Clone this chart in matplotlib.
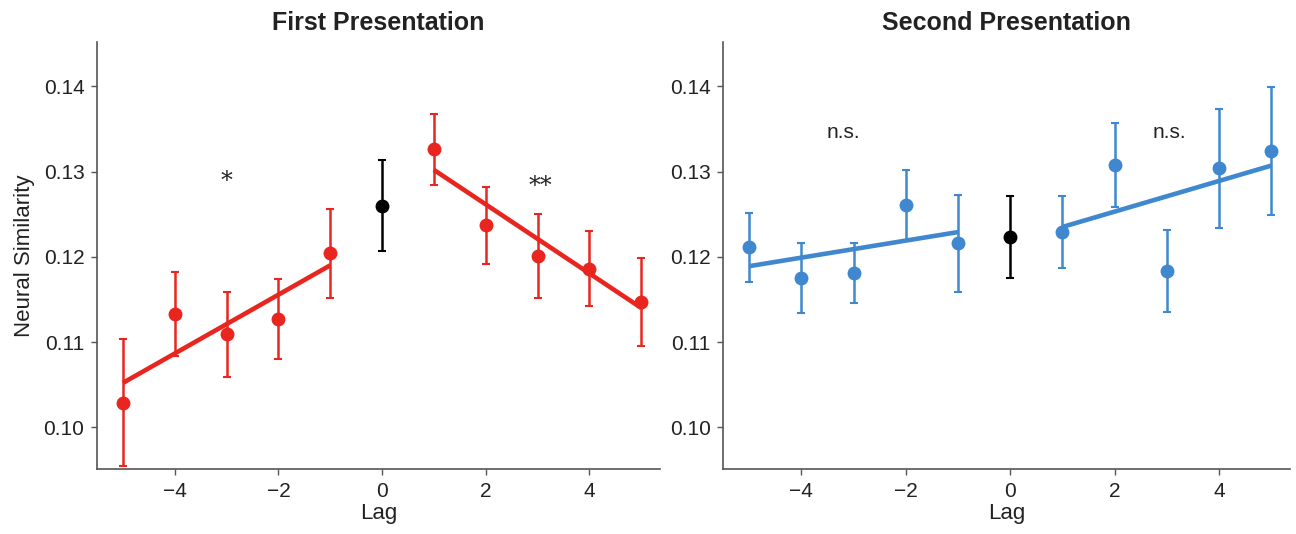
import numpy as np
import matplotlib
matplotlib.use("Agg")
import matplotlib.pyplot as plt
from matplotlib import font_manager

# lag positions
lags_neg = [-5, -4, -3, -2, -1]
lags_pos = [1, 2, 3, 4, 5]

# first presentation
first_neg = [0.1029, 0.1133, 0.1109, 0.1127, 0.1204]
first_neg_err = [0.0074, 0.0049, 0.0050, 0.0047, 0.0052]
first_pos = [0.1326, 0.1237, 0.1201, 0.1186, 0.1147]
first_pos_err = [0.0042, 0.0045, 0.0049, 0.0044, 0.0052]
first_zero = 0.1260
first_zero_err = 0.0053
first_fit_neg = [0.1052, 0.1190]   # fit values at lag -5 and -1
first_fit_pos = [0.1302, 0.1140]   # fit values at lag 1 and 5

# second presentation
second_neg = [0.1211, 0.1175, 0.1181, 0.1261, 0.1216]
second_neg_err = [0.0040, 0.0041, 0.0035, 0.0041, 0.0057]
second_pos = [0.1229, 0.1308, 0.1183, 0.1304, 0.1324]
second_pos_err = [0.0042, 0.0049, 0.0048, 0.0070, 0.0075]
second_zero = 0.1223
second_zero_err = 0.0048
second_fit_neg = [0.1189, 0.1229]
second_fit_pos = [0.1235, 0.1307]

yticks = [0.10, 0.11, 0.12, 0.13, 0.14]
xticks = [-4, -2, 0, 2, 4]

names = {f.name for f in font_manager.fontManager.ttflist}
narrow = 'Liberation Sans Narrow' if 'Liberation Sans Narrow' in names else 'Liberation Sans'
plt.rcParams['font.family'] = [narrow, 'DejaVu Sans']

RED = '#e8261f'
BLUE = '#3f88cf'
TXT = '#222222'

fig = plt.figure(figsize=(12.96, 5.34), dpi=100)
ax1 = fig.add_axes([0.0748, 0.1217, 0.4344, 0.7996])
ax2 = fig.add_axes([0.5579, 0.1217, 0.4375, 0.7996])


def panel(ax, col, neg, neg_err, pos, pos_err, zero, zero_err, fit_neg, fit_pos, title):
    eb = dict(fmt='o', ms=9, elinewidth=1.8, capsize=3, capthick=1.5, zorder=3)
    ax.errorbar(lags_neg, neg, yerr=neg_err, color=col, **eb)
    ax.errorbar(lags_pos, pos, yerr=pos_err, color=col, **eb)
    ax.errorbar([0], [zero], yerr=[zero_err], color='black', **eb)
    ax.plot([lags_neg[0], lags_neg[-1]], fit_neg, color=col, lw=3.3, zorder=4, solid_capstyle='butt')
    ax.plot([lags_pos[0], lags_pos[-1]], fit_pos, color=col, lw=3.3, zorder=4, solid_capstyle='butt')
    ax.set_xlim(-5.5, 5.36)
    ax.set_ylim(0.0951, 0.1452)
    ax.set_xticks(xticks)
    ax.set_yticks(yticks)
    ax.set_yticklabels(['%.2f' % v for v in yticks])
    ax.spines['top'].set_visible(False)
    ax.spines['right'].set_visible(False)
    for s in ['left', 'bottom']:
        ax.spines[s].set_color('#555555')
        ax.spines[s].set_linewidth(1.2)
    ax.tick_params(labelsize=15, length=4, width=1, color='#555555', labelcolor=TXT, pad=5)
    ax.set_xlabel('Lag', fontsize=16, labelpad=2, color=TXT)
    ax.set_title(title, fontsize=18, fontweight='bold', pad=9, color=TXT)


panel(ax1, RED, first_neg, first_neg_err, first_pos, first_pos_err,
      first_zero, first_zero_err, first_fit_neg, first_fit_pos, 'First Presentation')
panel(ax2, BLUE, second_neg, second_neg_err, second_pos, second_pos_err,
      second_zero, second_zero_err, second_fit_neg, second_fit_pos, 'Second Presentation')

ax1.set_ylabel('Neural Similarity', fontsize=16, labelpad=6, color=TXT)

ax1.text(-3, 0.1288, '*', fontsize=17, ha='center', va='center', family='DejaVu Serif', color=TXT)
ax1.text(3.05, 0.1282, '**', fontsize=17, ha='center', va='center', family='DejaVu Serif', color=TXT)
ax2.text(-3.2, 0.1346, 'n.s.', fontsize=15, ha='center', va='center', color=TXT)
ax2.text(3.05, 0.1346, 'n.s.', fontsize=15, ha='center', va='center', color=TXT)

fig.savefig('out.png', dpi=100)
